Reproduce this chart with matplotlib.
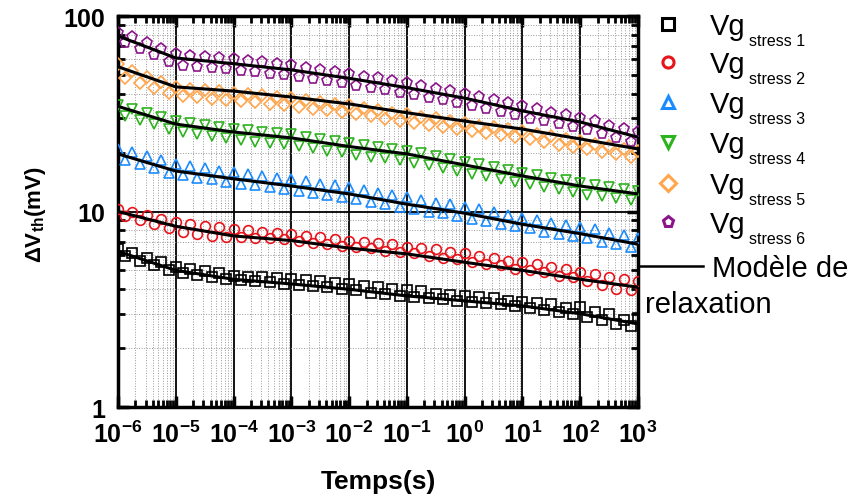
import numpy as np
import matplotlib
matplotlib.use("Agg")
import matplotlib.pyplot as plt
from matplotlib.lines import Line2D
from matplotlib.ticker import LogLocator, NullFormatter, FixedLocator

plt.rcParams["font.family"] = ["Liberation Sans", "DejaVu Sans"]
plt.rcParams["mathtext.fontset"] = "custom"
plt.rcParams["mathtext.rm"] = "Liberation Sans"
plt.rcParams["mathtext.bf"] = "Liberation Sans:bold"
plt.rcParams["mathtext.it"] = "Liberation Sans:italic"

# log10 of time for the two measurement tracks and for the relaxation model
exp_up = np.arange(-6, 3.01, 0.25)
exp_dn = np.arange(-5.875, 2.9, 0.25)
fit_exp = [-6, -5, -4, -3, -2, -1, 0, 1, 2, 3]

# Vg stress 1 (black squares)
s1_up = [6.4, 6.1, 5.8, 5.5, 5.2, 5.1, 4.95, 4.85, 4.7, 4.65, 4.6, 4.55, 4.5,
         4.45, 4.4, 4.3, 4.25, 4.15, 4.1, 4.0, 3.95, 3.9, 3.8, 3.75, 3.7, 3.65,
         3.6, 3.5, 3.45, 3.4, 3.35, 3.2, 3.25, 3.05, 3.0, 2.8, 2.85]
s1_dn = [5.9, 5.6, 5.3, 5.05, 4.85, 4.75, 4.6, 4.5, 4.45, 4.4, 4.35, 4.25,
         4.2, 4.15, 4.1, 4.0, 3.95, 3.85, 3.8, 3.7, 3.65, 3.6, 3.55, 3.5, 3.45,
         3.4, 3.35, 3.3, 3.2, 3.15, 3.05, 3.0, 2.9, 2.8, 2.65, 2.6]
# Vg stress 2 (red circles)
s2_up = [10.3, 9.9, 9.6, 9.2, 8.8, 8.6, 8.4, 8.3, 8.1, 8.0, 7.9, 7.8, 7.7, 7.5,
         7.4, 7.2, 7.1, 7.0, 6.9, 6.8, 6.6, 6.5, 6.4, 6.2, 6.1, 5.9, 5.8, 5.6,
         5.5, 5.4, 5.2, 5.1, 4.9, 4.8, 4.6, 4.5, 4.4]
s2_dn = [9.5, 9.0, 8.6, 8.2, 7.9, 7.7, 7.5, 7.4, 7.4, 7.3, 7.3, 7.2, 7.1, 6.9,
         6.8, 6.7, 6.6, 6.5, 6.3, 6.2, 6.1, 5.9, 5.8, 5.7, 5.5, 5.4, 5.3, 5.1,
         5.0, 4.9, 4.7, 4.6, 4.4, 4.2, 4.0, 3.95]
# Vg stress 3 (blue triangles)
s3_up = [21, 20.2, 19.2, 18.3, 17.4, 17, 16.6, 16.2, 15.9, 15.6, 15.2, 14.9,
         14.6, 14.3, 13.9, 13.6, 13.3, 12.9, 12.5, 12.1, 11.8, 11.4, 11.1, 10.9,
         10.6, 10.3, 9.9, 9.6, 9.3, 9.1, 8.7, 8.5, 8.3, 8.1, 7.8, 7.6, 7.3]
s3_dn = [18.4, 17.5, 16.6, 15.8, 15.3, 14.9, 14.6, 14.2, 13.9, 13.6, 13.3,
         13.1, 12.8, 12.5, 12.2, 11.9, 11.6, 11.2, 10.9, 10.6, 10.3, 10.0, 9.8,
         9.5, 9.2, 8.9, 8.6, 8.4, 8.2, 7.9, 7.7, 7.5, 7.3, 7.0, 6.8, 6.6]
# Vg stress 4 (green inverted triangles)
s4_up = [35, 33.5, 32, 30.5, 29, 28.4, 27.8, 27.1, 26.5, 26.1, 25.6, 25.2, 24.8,
         24.1, 23.5, 23, 22.4, 21.8, 21.4, 20.9, 20.5, 19.9, 19.2, 18.6, 18,
         17.5, 16.8, 16.3, 15.8, 15.4, 14.9, 14.5, 14, 13.7, 13.4, 13.1, 12.8]
s4_dn = [30.9, 29.3, 27.9, 26.4, 25.4, 24.8, 24.3, 23.7, 23.3, 22.8, 22.4,
         22.1, 21.6, 21.1, 20.5, 20.1, 19.5, 19.1, 18.7, 18.3, 17.8, 17.3, 16.7,
         16.2, 15.6, 15.2, 14.7, 14.2, 13.8, 13.3, 13.0, 12.6, 12.2, 12.0, 11.7,
         11.4]
# Vg stress 5 (orange diamonds)
s5_up = [57, 52.5, 49, 46, 43.5, 42.5, 42, 41.5, 40.5, 40, 39.5, 38.5, 38, 37,
         36.5, 35.5, 35, 34, 33, 32, 31.5, 30.5, 30, 29, 28.5, 27.5, 27, 26.5,
         25.8, 25, 24.3, 23.6, 23, 22.2, 21.6, 21, 20.3]
s5_dn = [48, 45.2, 42.7, 40.2, 38.8, 38.3, 37.8, 37.3, 36.8, 36.2, 35.5, 34.9,
         34.3, 33.6, 32.9, 32.2, 31.5, 30.7, 29.9, 29.2, 28.4, 27.7, 27.1, 26.4,
         25.7, 25.2, 24.6, 24.0, 23.4, 22.7, 22.0, 21.4, 20.9, 20.2, 19.6, 19.1]
# Vg stress 6 (purple pentagons)
s6_up = [82, 78, 73, 68, 64, 62.5, 61.5, 61, 60, 59, 58, 57, 56, 54.5, 53, 52,
         50.5, 49, 48, 46.5, 45.5, 44, 42.5, 41.5, 40, 38.5, 37, 36, 34.5, 33.5,
         32, 31, 30, 29, 27.5, 26.5, 25.5]
s6_dn = [72.5, 67.4, 62.8, 58.1, 55.4, 54.7, 54, 53.3, 52.5, 51.6, 50.7, 49.8,
         48.6, 47.4, 46.3, 45.2, 44, 42.8, 41.7, 40.5, 39.3, 38.1, 37, 35.9,
         34.6, 33.3, 32.2, 31, 29.9, 28.9, 28, 27.1, 26, 24.9, 23.8, 22.8]

# relaxation model, one value per decade
fit1 = [6.25, 5.0, 4.5, 4.26, 4.0, 3.7, 3.49, 3.29, 3.0, 2.66]
fit2 = [10.0, 8.4, 7.5, 7.1, 6.5, 6.07, 5.5, 5.0, 4.5, 4.1]
fit3 = [19.7, 16.1, 14.7, 13.5, 12.3, 10.9, 9.8, 8.6, 7.7, 6.8]
fit4 = [34.5, 28.0, 25.5, 23.8, 21.5, 19.7, 17.3, 15.2, 13.5, 12.3]
fit5 = [55, 43.4, 41.3, 38.5, 35.5, 32, 29, 26.4, 23.5, 20.9]
fit6 = [79, 61, 57, 53, 48, 43, 38, 32.7, 28.7, 24]

ups = [s1_up, s2_up, s3_up, s4_up, s5_up, s6_up]
dns = [s1_dn, s2_dn, s3_dn, s4_dn, s5_dn, s6_dn]
fits = [fit1, fit2, fit3, fit4, fit5, fit6]
labels = ["stress 1", "stress 2", "stress 3", "stress 4", "stress 5", "stress 6"]
colors = ["black", "#e8141c", "#1a8cff", "#2db31e", "#ffa64d", "#8b168b"]
markers = ["s", "o", "^", "v", "D", "p"]
msizes = [7.5, 7, 7.5, 7.5, 6.5, 8]

fig = plt.figure(figsize=(8.52, 5.02), dpi=100)
ax = fig.add_axes([118 / 852, 1 - 408 / 502, 520 / 852, 391 / 502])

t_up = 10.0 ** exp_up
t_dn = 10.0 ** exp_dn
tf = 10.0 ** np.array(fit_exp, dtype=float)
for up, dn, c, m, ms in zip(ups, dns, colors, markers, msizes):
    ax.plot(t_up, up, linestyle="none", marker=m, ms=ms, mfc="none", mec=c,
            mew=1.2, zorder=3)
    ax.plot(t_dn, dn, linestyle="none", marker=m, ms=ms, mfc="none", mec=c,
            mew=1.2, zorder=3)
for f in fits:
    ax.plot(tf, f, color="black", lw=2.2, zorder=4)

ax.set_xscale("log")
ax.set_yscale("log")
ax.set_xlim(1e-6, 1e3)
ax.set_ylim(1, 100)

ax.xaxis.set_major_locator(FixedLocator(tf))
ax.xaxis.set_minor_locator(LogLocator(base=10, subs=np.arange(2, 10), numticks=20))
ax.xaxis.set_minor_formatter(NullFormatter())
ax.set_xticklabels([r"$\mathbf{10^{%d}}$" % e for e in fit_exp])
ax.yaxis.set_major_locator(FixedLocator([1, 10, 100]))
ax.yaxis.set_minor_locator(LogLocator(base=10, subs=np.arange(2, 10), numticks=20))
ax.yaxis.set_minor_formatter(NullFormatter())
ax.set_yticklabels(["1", "10", "100"])

ax.grid(True, which="major", color="black", lw=1.3, ls="-", zorder=1)
ax.grid(True, which="minor", color="#999999", lw=0.7, ls=":", zorder=1)
ax.set_axisbelow(True)

ax.tick_params(which="major", direction="in", length=8, width=2.5,
               top=True, right=True, labelsize=18, pad=10)
ax.tick_params(axis="y", which="major", pad=9)
ax.tick_params(which="minor", direction="in", length=5, width=2,
               top=True, right=True)
for lab in ax.get_yticklabels():
    lab.set_fontweight("bold")
for sp in ax.spines.values():
    sp.set_linewidth(2.5)

fig.text(378 / 852, 1 - 482 / 502, "Temps(s)", fontsize=19, fontweight="bold",
         ha="center", va="center")
fig.text(35 / 852, 1 - 215 / 502, r"ΔV$_{\mathbf{th}}$(mV)", fontsize=16,
         fontweight="bold", ha="center", va="center", rotation=90)

# legend drawn by hand to the right of the axes
leg_y = [25, 63, 103, 143, 184, 223]
for y, c, m, lab in zip(leg_y, colors, markers, labels):
    fig.add_artist(Line2D([668 / 852], [1 - y / 502], marker=m, ms=8,
                          mfc="none", mec=c, mew=2.2, ls="none"))
    fig.text(710 / 852, 1 - (y + 10) / 502, "Vg", fontsize=21,
             va="baseline", ha="left")
    fig.text(749 / 852, 1 - (y + 21) / 502, lab, fontsize=11.5,
             va="baseline", ha="left")

fig.add_artist(Line2D([638 / 852, 703 / 852], [1 - 267 / 502, 1 - 267 / 502],
                      color="black", lw=1.8))
fig.text(712 / 852, 1 - 277 / 502, "Modèle de", fontsize=21, va="baseline")
fig.text(645 / 852, 1 - 313 / 502, "relaxation", fontsize=21, va="baseline")

plt.savefig("out.png", dpi=100)
